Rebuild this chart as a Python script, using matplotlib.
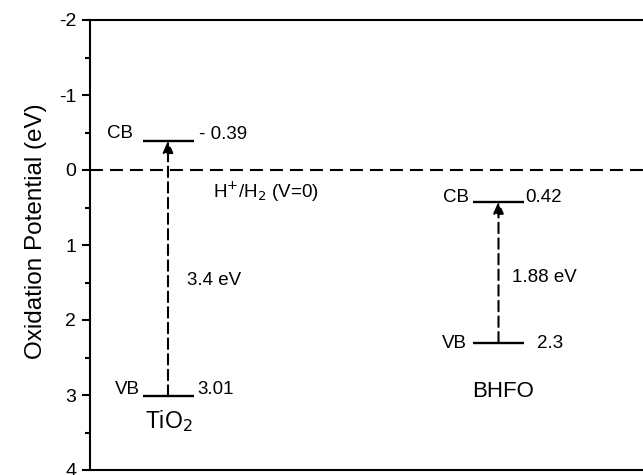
import matplotlib.pyplot as plt
from matplotlib.ticker import MultipleLocator

plt.rcParams['font.family'] = ['Liberation Sans', 'DejaVu Sans']
plt.rcParams['axes.unicode_minus'] = False

materials = ['TiO$_2$', 'BHFO']
cb = [-0.39, 0.42]
vb = [3.01, 2.3]
gaps = [3.4, 1.88]
cb_labels = ['- 0.39', '0.42']
vb_labels = ['3.01', '2.3']

# x axis runs in pixel units so positions
x_pos = [168, 498.5]
hw = 25.5

fig = plt.figure(figsize=(6.43, 4.75), dpi=100)
fig.patch.set_facecolor('white')
ax = fig.add_axes([90 / 643, 5 / 475, 610 / 643, 450 / 475])
ax.set_xlim(90, 700)
ax.set_ylim(4, -2)

for s in ax.spines.values():
    s.set_linewidth(1.5)
ax.set_xticks([])
ax.yaxis.set_major_locator(MultipleLocator(1))
ax.yaxis.set_minor_locator(MultipleLocator(0.5))
ax.tick_params(axis='y', which='major', direction='out', length=6, width=1.5, labelsize=14, pad=4)
ax.tick_params(axis='y', which='minor', direction='out', length=3.5, width=1.5)
ax.set_ylabel('Oxidation Potential (eV)', fontsize=17.5)
ax.yaxis.set_label_coords(-0.07, 0.53)

fs = 13.5
# H+/H2 reference level
ax.axhline(0, color='black', lw=1.5, ls=(0, (6.2, 3.4)))
ax.text(213, 0.29, 'H$^{+}$/H$_2$ (V=0)', fontsize=fs, va='center', ha='left')

for i, m in enumerate(materials):
    x = x_pos[i]
    ax.plot([x - hw, x + hw], [cb[i], cb[i]], color='black', lw=1.7, solid_capstyle='butt')
    ax.plot([x - hw, x + hw], [vb[i], vb[i]], color='black', lw=1.7, solid_capstyle='butt')
    ax.annotate('', xy=(x, cb[i]), xytext=(x, vb[i]),
                arrowprops=dict(arrowstyle='-|>,head_length=0.5,head_width=0.22', color='black', lw=1.5,
                                linestyle=(0, (5, 2.5)), mutation_scale=14,
                                shrinkA=0, shrinkB=0))

# TiO2 labels
ax.text(133, -0.49, 'CB', fontsize=fs, ha='right', va='center')
ax.text(199, -0.47, cb_labels[0], fontsize=fs, ha='left', va='center')
ax.text(140, 2.93, 'VB', fontsize=fs, ha='right', va='center')
ax.text(197, 2.93, vb_labels[0], fontsize=fs, ha='left', va='center')
ax.text(187, 1.47, f'{gaps[0]} eV', fontsize=fs, ha='left', va='center')
ax.text(169, 3.44, materials[0], fontsize=16.5, ha='center', va='baseline')

# BHFO labels
ax.text(469, 0.36, 'CB', fontsize=fs, ha='right', va='center')
ax.text(525, 0.36, cb_labels[1], fontsize=fs, ha='left', va='center')
ax.text(467, 2.31, 'VB', fontsize=fs, ha='right', va='center')
ax.text(537, 2.31, vb_labels[1], fontsize=fs, ha='left', va='center')
ax.text(512, 1.44, f'{gaps[1]} eV', fontsize=fs, ha='left', va='center')
ax.text(503, 3.03, materials[1], fontsize=16, ha='center', va='baseline')

fig.savefig('out.png', dpi=100, facecolor='white')
